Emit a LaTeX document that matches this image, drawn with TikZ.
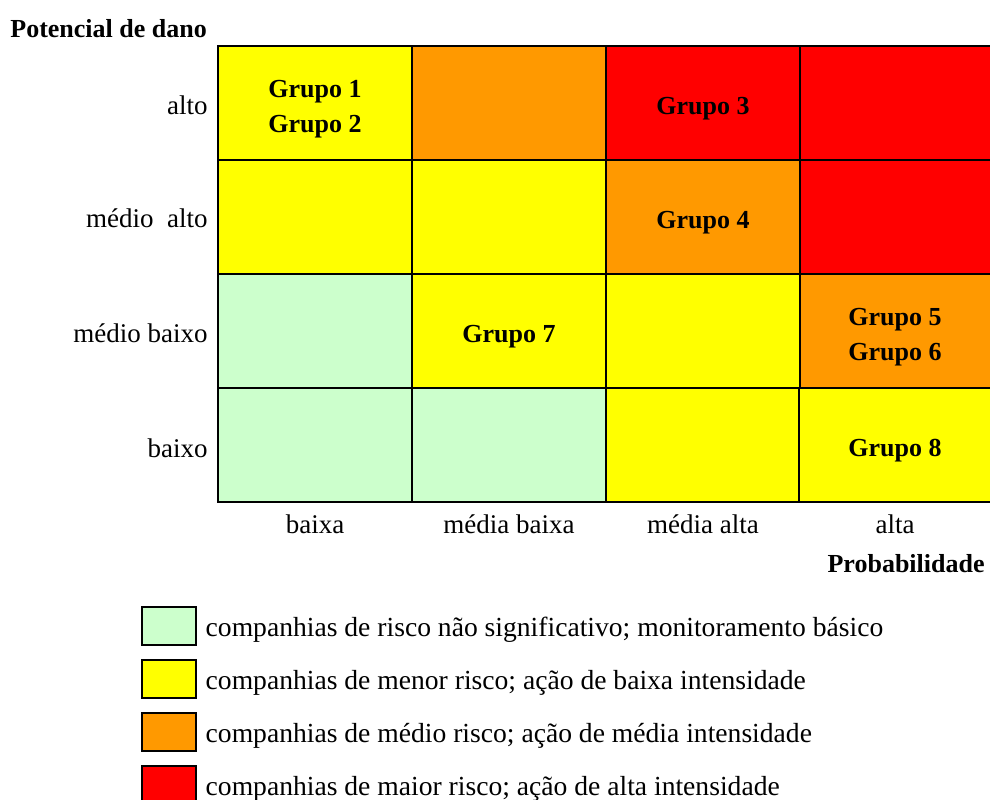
\documentclass[tikz,border=0pt]{standalone}
\usepackage{fontspec}
\setmainfont{Liberation Serif}
\usetikzlibrary{positioning}
\definecolor{riscobaixo}{HTML}{CCFFCC}
\definecolor{riscomenor}{HTML}{FFFF00}
\definecolor{riscomedio}{HTML}{FF9900}
\definecolor{riscomaior}{HTML}{FF0000}
\tikzset{
  cell/.style={draw, line width=1.3pt, minimum width=97pt,
    minimum height=57pt, inner sep=0pt},
  cellfim/.style={cell, minimum width=107pt},
  grupo/.style={inner sep=0pt, align=center, yshift=-3pt,
    font=\fontsize{13}{17.5}\selectfont\bfseries},
  eixo/.style={inner sep=0pt, font=\fontsize{13.5}{16}\selectfont},
  titulo/.style={inner sep=0pt, font=\fontsize{13}{15}\selectfont\bfseries},
  legbox/.style={draw, line width=1.3pt, minimum width=27pt,
    minimum height=19pt, inner sep=0pt},
  legtxt/.style={inner sep=0pt, anchor=west, yshift=-2pt,
    font=\fontsize{13.8}{16}\selectfont}
}
\begin{document}
\begin{tikzpicture}[x=0.5pt, y=-0.5pt]
  \useasboundingbox (0,0) rectangle (990,799);
  % linha alto
  \node[cell, fill=riscomenor] (a1) at (315,103) {};
  \node[cell, fill=riscomedio] (a2) at (509,103) {};
  \node[cell, fill=riscomaior] (a3) at (703,103) {};
  \node[cellfim, fill=riscomaior] (a4) at (907,103) {};
  % linha medio alto
  \node[cell, fill=riscomenor] (b1) at (315,217) {};
  \node[cell, fill=riscomenor] (b2) at (509,217) {};
  \node[cell, fill=riscomedio] (b3) at (703,217) {};
  \node[cellfim, fill=riscomaior] (b4) at (907,217) {};
  % linha medio baixo
  \node[cell, fill=riscobaixo] (c1) at (315,331) {};
  \node[cell, fill=riscomenor] (c2) at (509,331) {};
  \node[cell, fill=riscomenor] (c3) at (703,331) {};
  \node[cellfim, fill=riscomedio] (c4) at (907,331) {};
  % linha baixo
  \node[cell, fill=riscobaixo] (d1) at (315,445) {};
  \node[cell, fill=riscobaixo] (d2) at (509,445) {};
  \node[cell, fill=riscomenor] (d3) at (703,445) {};
  \node[cellfim, fill=riscomenor] (d4) at (906,445) {};
  % grupos
  \node[grupo] (g12) at (a1) {Grupo 1\\Grupo 2};
  \node[grupo] (g3) at (a3) {Grupo 3};
  \node[grupo] (g4) at (b3) {Grupo 4};
  \node[grupo] (g7) at (c2) {Grupo 7};
  \node[grupo] (g56) at (895,331) {Grupo 5\\Grupo 6};
  \node[grupo] (g8) at (895,445) {Grupo 8};
  % eixos
  \node[titulo, anchor=west] (pot) at (10,29) {Potencial de dano};
  \node[eixo, anchor=east] (ralto) at (208,105) {alto};
  \node[eixo, anchor=east] (rmalto) at (208,218) {médio\ \ alto};
  \node[eixo, anchor=east] (rmbaixo) at (208,333) {médio baixo};
  \node[eixo, anchor=east] (rbaixo) at (208,448) {baixo};
  \node[eixo] (cbaixa) at (315,524) {baixa};
  \node[eixo] (cmbaixa) at (509,524) {média baixa};
  \node[eixo] (cmalta) at (703,524) {média alta};
  \node[eixo] (calta) at (895,524) {alta};
  \node[titulo, anchor=east] (prob) at (985,564) {Probabilidade};
  % legenda
  \node[legbox, fill=riscobaixo] (l1) at (169,626) {};
  \node[legbox, fill=riscomenor] (l2) at (169,679) {};
  \node[legbox, fill=riscomedio] (l3) at (169,732) {};
  \node[legbox, fill=riscomaior] (l4) at (169,785) {};
  \node[legtxt, right=4pt of l1] (t1)
       {companhias de risco não significativo; monitoramento básico};
  \node[legtxt, right=4pt of l2] (t2)
       {companhias de menor risco; ação de baixa intensidade};
  \node[legtxt, right=4pt of l3] (t3)
       {companhias de médio risco; ação de média intensidade};
  \node[legtxt, right=4pt of l4] (t4)
       {companhias de maior risco; ação de alta intensidade};
\end{tikzpicture}
\end{document}
